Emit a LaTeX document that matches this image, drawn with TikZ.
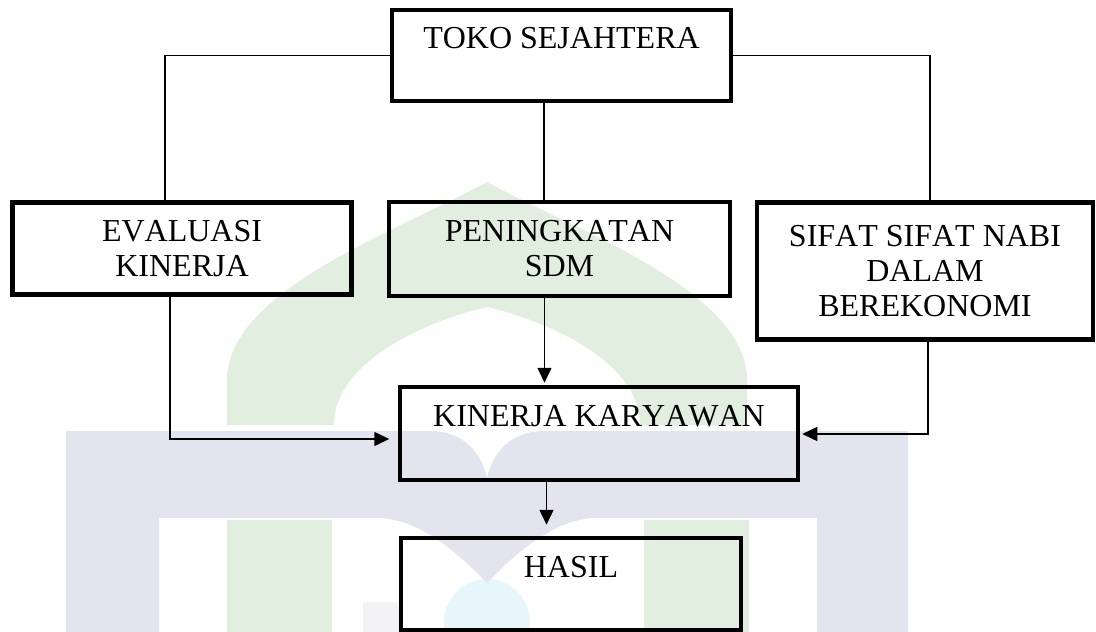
\documentclass[tikz,border=0pt]{standalone}
\usepackage{fontspec}
\setmainfont{Liberation Serif}[Kerning=Off]
\usetikzlibrary{arrows.meta,calc}
\definecolor{wmgreen}{HTML}{E2EFE0}
\definecolor{wmlav}{HTML}{E4E4EF}
\definecolor{wmcyan}{HTML}{E6F6FB}
\definecolor{wmgray}{HTML}{F3F3F5}
\begin{document}
\begin{tikzpicture}[x=1pt,y=-1pt,
  box/.style={draw=black, line width=4.5pt, inner sep=0pt, align=center,
    font=\fontsize{32}{35}\selectfont, text=black},
  link/.style={draw=black, line width=1.5pt},
  arr/.style={link, -{Triangle[length=15pt,width=14pt]}}]
\useasboundingbox (0,0) rectangle (1096,632);
% watermark
\fill[wmgreen] (227,425) -- (227,380) .. controls (227,290) and (400,230) .. (487,182)
  .. controls (574,230) and (747,290) .. (747,380) -- (747,425) -- (640,425)
  .. controls (640,360) and (544,320) .. (487,307)
  .. controls (430,320) and (334,360) .. (334,425) -- cycle;
\fill[wmgreen] (227,520) rectangle (332,632);
\fill[wmgreen] (644,520) rectangle (749,632);
\fill[wmcyan] (487,622) circle (43);
\fill[wmgray] (363,602) rectangle (400,632);
\fill[wmlav] (66,431) -- (430,431) .. controls (465,431) and (482,455) .. (487,478)
  .. controls (492,455) and (509,431) .. (544,431) -- (908,431) -- (908,632) -- (817,632)
  -- (817,518) -- (597,518) .. controls (554,518) and (514,555) .. (487,583)
  .. controls (460,555) and (420,518) .. (377,518) -- (159,518) -- (159,632) -- (66,632) -- cycle;
% boxes
\node[box, minimum width=339pt, minimum height=91pt] (toko) at (561.5,55.5) {TOKO SEJAHTERA\\\mbox{}};
\node[box, minimum width=339pt, minimum height=92pt] (eval) at (182,248.5) {EVALUASI\\KINERJA};
\node[box, minimum width=341pt, minimum height=94pt] (pen) at (559.5,249) {PENINGKATAN\\SDM};
\node[box, minimum width=336pt, minimum height=137pt] (sifat) at (925,271) {SIFAT SIFAT NABI\\DALAM\\BEREKONOMI};
\node[box, minimum width=398pt, minimum height=93pt] (kin) at (599,433.5) {KINERJA KARYAWAN\\\mbox{}};
\node[box, minimum width=340pt, minimum height=92pt] (hasil) at (571,584) {HASIL\\\mbox{}};
% connectors
\coordinate (cL) at (165,0);
\coordinate (cM) at (544,0);
\coordinate (cR) at (930,0);
\coordinate (dM) at (544.5,0);
\coordinate (dL) at (170,439);
\coordinate (dR) at (928,434);
\coordinate (dH) at (546.5,0);
\draw[link] (toko.west) -| (cL |- eval.north);
\draw[link] (toko.east) -| (cR |- sifat.north);
\draw[link] (cM |- toko.south) -- (cM |- pen.north);
\draw[arr, shorten >=2pt] (dM |- pen.south) -- (dM |- kin.north);
\draw[arr, shorten >=8.5pt] (dL |- eval.south) -- (dL) -- (kin.west |- dL);
\draw[arr, shorten >=2pt] (dR |- sifat.south) -- (dR) -- (kin.east |- dR);
\draw[arr, shorten >=11pt] (dH |- kin.south) -- (dH |- hasil.north);
\end{tikzpicture}
\end{document}
